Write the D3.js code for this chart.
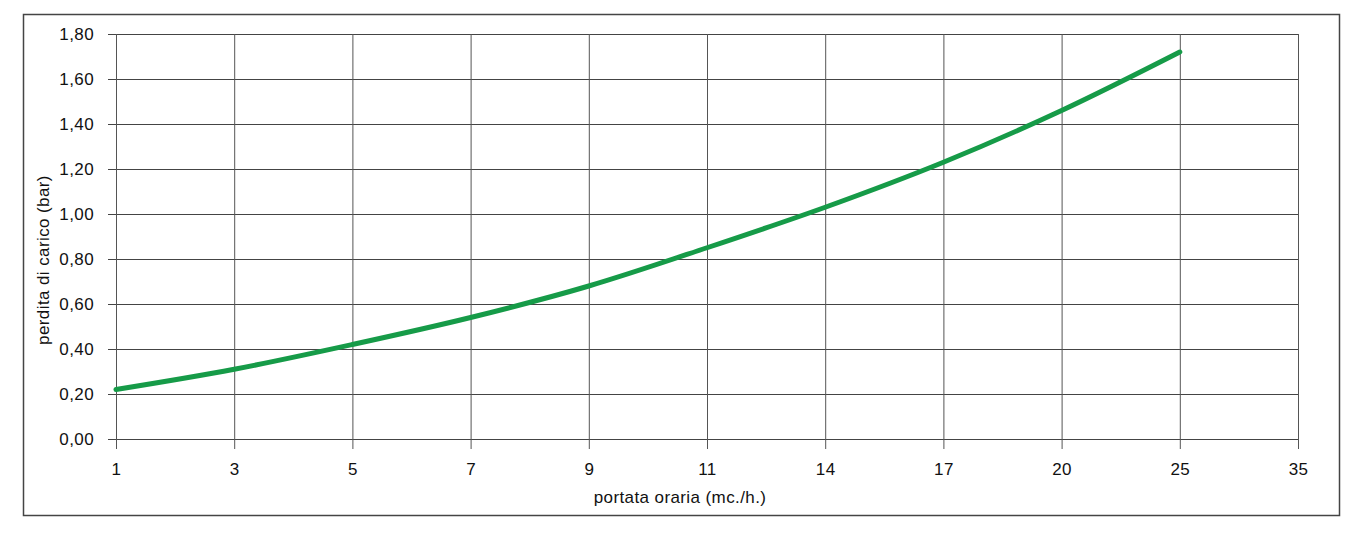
<!DOCTYPE html>
<html>
<head>
<meta charset="utf-8">
<script src="https://cdn.jsdelivr.net/npm/d3@7"></script>
<style>
  body { margin: 0; background: #fff; }
  text { font-family: "Liberation Sans", Arial, sans-serif; fill: #111; }
</style>
</head>
<body>
<div id="chart"></div>
<script>
// categories on the x axis (equally spaced, Excel-style)
var portata = ["1", "3", "5", "7", "9", "11", "14", "17", "20", "25", "35"];
// pressure loss (bar) for each flow, last category has no value
var perdita = [0.22, 0.31, 0.42, 0.54, 0.68, 0.85, 1.03, 1.23, 1.46, 1.72];
var yTicks = [0, 0.2, 0.4, 0.6, 0.8, 1.0, 1.2, 1.4, 1.6, 1.8];

var W = 1357, H = 533;
var margin = { top: 34, right: 59, bottom: 94, left: 116 };
var FONT = "'Liberation Sans', Arial, sans-serif";

var svg = d3.select("#chart").append("svg")
  .attr("width", W).attr("height", H);

// outer frame
svg.append("rect")
  .attr("x", 23.5).attr("y", 14.5)
  .attr("width", 1316).attr("height", 501)
  .attr("fill", "none").attr("stroke", "#444").attr("stroke-width", 1.5);

var x = d3.scalePoint()
  .domain(portata)
  .range([margin.left, W - margin.right]);

var y = d3.scaleLinear()
  .domain([0, 1.8])
  .range([H - margin.bottom, margin.top]);

var fmt = function (d) { return d3.format(".2f")(d).replace(".", ","); };

function styleText(sel) {
  sel.style("font-size", "17px")
    .style("font-family", FONT)
    .style("letter-spacing", "0.4px")
    .attr("fill", "#111");
}

// horizontal grid + y ticks
svg.append("g")
  .attr("transform", "translate(" + margin.left + ",0)")
  .call(d3.axisLeft(y).tickValues(yTicks).tickFormat(fmt)
    .tickSize(-(W - margin.right - margin.left)).tickPadding(22))
  .call(function (g) {
    g.select(".domain").remove();
    g.selectAll(".tick line").attr("stroke", "#444").attr("x1", -8);
    g.selectAll(".tick text").call(styleText);
  });

// vertical grid + x ticks
svg.append("g")
  .attr("transform", "translate(0," + (H - margin.bottom) + ")")
  .call(d3.axisBottom(x)
    .tickSize(-(H - margin.bottom - margin.top)).tickPadding(24))
  .call(function (g) {
    g.select(".domain").remove();
    g.selectAll(".tick line").attr("stroke", "#555").attr("y1", 10);
    g.selectAll(".tick text").call(styleText);
  });

// axis titles
svg.append("text")
  .attr("x", 680)
  .attr("y", 503)
  .attr("text-anchor", "middle")
  .call(styleText)
  .text("portata oraria (mc./h.)");

svg.append("text")
  .attr("transform", "translate(49," + 260 + ") rotate(-90)")
  .attr("text-anchor", "middle")
  .call(styleText)
  .text("perdita di carico (bar)");

// the curve
var line = d3.line()
  .x(function (d, i) { return x(portata[i]); })
  .y(function (d) { return y(d); })
  .curve(d3.curveCatmullRom.alpha(0.5));

svg.append("path")
  .datum(perdita)
  .attr("d", line)
  .attr("fill", "none")
  .attr("stroke", "#169b48")
  .attr("stroke-width", 5)
  .attr("stroke-linecap", "round");
</script>
</body>
</html>
